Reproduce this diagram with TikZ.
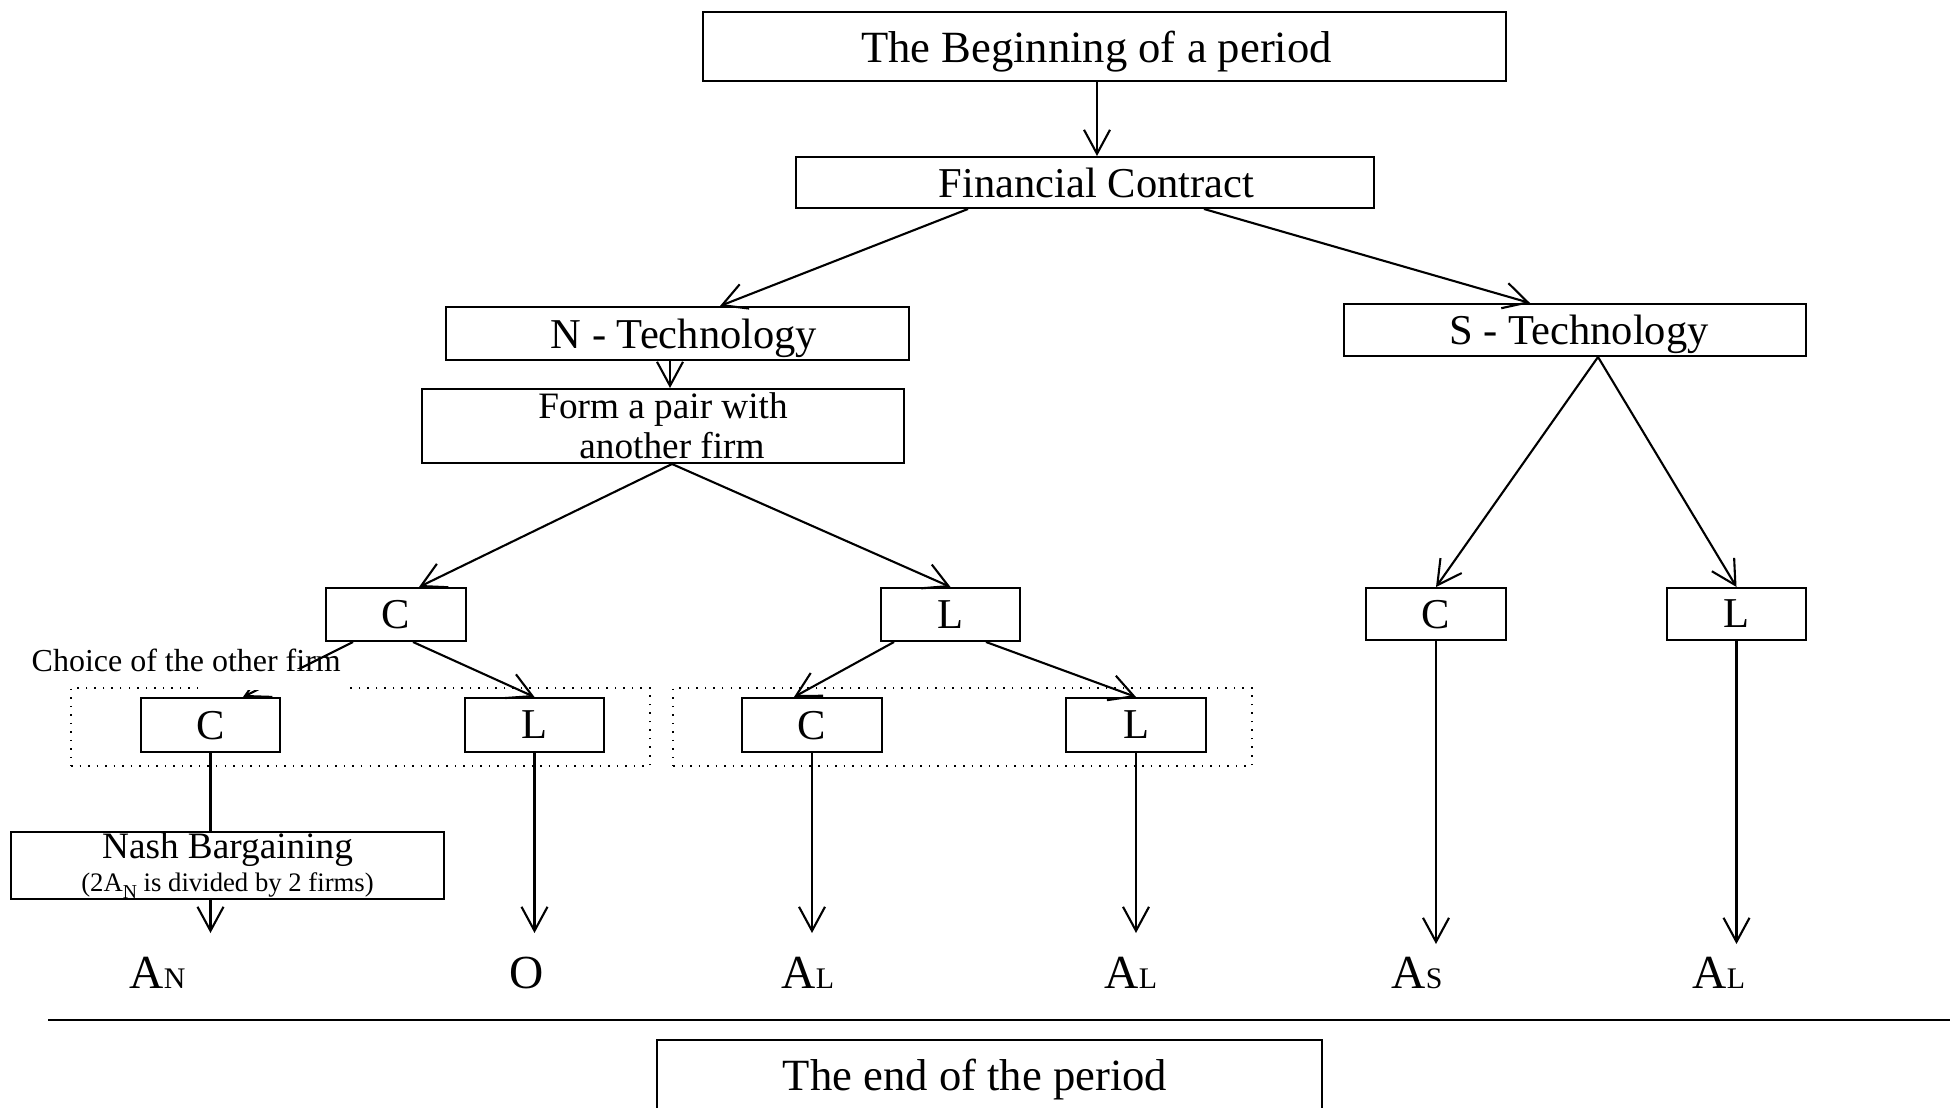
\documentclass[tikz,border=0pt]{standalone}
\usepackage{fontspec}
\setmainfont{Liberation Serif}
\usetikzlibrary{arrows.meta}

\newlength{\du}
\setlength{\du}{0.1mm}
\newcommand{\payoff}[1]{{\fontsize{13.5}{15}\selectfont A}{\fontsize{8.5}{10}\selectfont #1}}

\tikzset{
  stagebox/.style={draw, line width=0.2mm, inner sep=0pt, text depth=0pt, font=\fontsize{12.1}{14}\selectfont},
  periodbox/.style={stagebox, font=\fontsize{12.7}{15}\selectfont},
  textbox/.style={draw, line width=0.2mm, inner sep=0pt, align=center, font=\fontsize{10.6}{11.4}\selectfont},
  pairbox/.style={draw, dotted, line width=0.15mm, inner sep=0pt},
  link/.style={line width=0.21mm, -{Straight Barb[length=2.4mm,width=2.6mm]}},
  plain/.style={line width=0.21mm},
  outcome/.style={anchor=base west, inner sep=0pt},
}

\begin{document}
\begin{tikzpicture}
\pgftransformyscale{-1.000000}
\useasboundingbox (0\du,0\du) rectangle (1950\du,1108\du);
\clip (0\du,0\du) rectangle (1950\du,1108\du);
% top of the tree
\node[periodbox, minimum width=803\du, minimum height=69\du] (begin) at (1104.5\du,46.5\du) {\hspace*{-16\du}The Beginning of a period};
\node[stagebox, minimum width=578\du, minimum height=51\du] (fc) at (1085\du,182.5\du) {\hspace*{23\du}Financial Contract};
\node[stagebox, minimum width=463\du, minimum height=53\du] (ntech) at (677.5\du,333.5\du) {\hspace*{13\du}N - Technology};
\node[stagebox, minimum width=462\du, minimum height=52\du] (stech) at (1575\du,330\du) {\hspace*{8\du}S - Technology};
\node[textbox, minimum width=482\du, minimum height=74\du] (pair) at (663\du,426\du) {Form a pair with\\\hspace*{18\du}another firm};
% own choice
\node[stagebox, minimum width=140\du, minimum height=53\du] (c1) at (396\du,614.5\du) {C};
\node[stagebox, minimum width=139\du, minimum height=53\du] (l1) at (950.5\du,614.5\du) {L};
\node[stagebox, minimum width=140\du, minimum height=52\du] (cs) at (1436\du,614\du) {C};
\node[stagebox, minimum width=139\du, minimum height=52\du] (ls) at (1736.5\du,614\du) {L};
% choice of the partner
\node[pairbox, minimum width=579\du, minimum height=78\du] (grpA) at (360.5\du,727\du) {};
\node[pairbox, minimum width=579\du, minimum height=78\du] (grpB) at (962.5\du,727\du) {};
\node[stagebox, minimum width=139\du, minimum height=54\du] (c2a) at (210.5\du,725\du) {C};
\node[stagebox, minimum width=139\du, minimum height=54\du] (l2a) at (534.5\du,725\du) {L};
\node[stagebox, minimum width=140\du, minimum height=54\du] (c2b) at (812\du,725\du) {C};
\node[stagebox, minimum width=140\du, minimum height=54\du] (l2b) at (1136\du,725\du) {L};
\node[textbox, minimum width=433\du, minimum height=67\du] (nash) at (227.5\du,865.5\du) {Nash Bargaining\\[-2pt]{\fontsize{7.6}{9}\selectfont (2A\raisebox{-2.2pt}{\fontsize{5.6}{6}\selectfont N} is divided by 2 firms)}};
\coordinate (tipL) at (0\du,933\du);
\coordinate (tipS) at (0\du,944\du);
% connectors
\draw[link] ([xshift=-7.5\du]begin.south) -- ([xshift=12\du]fc.north);
\draw[link] ([xshift=-117\du]fc.south) -- ([xshift=42.5\du]ntech.north);
\draw[link] ([xshift=119\du]fc.south) -- ([xshift=-45\du]stech.north);
\draw[link] ([xshift=-7.5\du]ntech.south) -- ([xshift=7\du]pair.north);
\draw[link] ([xshift=9\du]pair.south) -- ([xshift=23\du]c1.north);
\draw[link] ([xshift=9\du]pair.south) -- (l1.north);
\draw[link] ([xshift=-43\du]c1.south) -- ([xshift=32.5\du]c2a.north);
\draw[link] ([xshift=17\du]c1.south) -- (l2a.north);
\draw[link] ([xshift=-56.5\du]l1.south) -- ([xshift=-18\du]c2b.north);
\draw[link] ([xshift=35.5\du]l1.south) -- (l2b.north);
\draw[link] ([xshift=23\du]stech.south) -- (cs.north);
\draw[link] ([xshift=23\du]stech.south) -- (ls.north);
\draw[plain] (c2a.south) -- (c2a.south |- nash.north);
\draw[link] (c2a.south |- nash.south) -- (c2a.south |- tipL);
\draw[link] (l2a.south) -- (l2a.south |- tipL);
\draw[link] (c2b.south) -- (c2b.south |- tipL);
\draw[link] (l2b.south) -- (l2b.south |- tipL);
\draw[link] (cs.south) -- (cs.south |- tipS);
\draw[link] (ls.south) -- (ls.south |- tipS);
\fill[white] (205\du,669\du) rectangle (346\du,689.5\du);
\node[anchor=base west, inner sep=0pt, font=\fontsize{9.1}{11}\selectfont] (choice) at (31\du,671\du) {Choice of the other firm};
% payoffs
\node[outcome] (payN) at (129\du,988\du) {\payoff{N}};
\node[outcome] (payO) at (509\du,988\du) {\fontsize{13.5}{15}\selectfont O};
\node[outcome] (payC) at (781\du,988\du) {\payoff{L}};
\node[outcome] (payD) at (1104\du,988\du) {\payoff{L}};
\node[outcome] (payS) at (1391\du,988\du) {\payoff{S}};
\node[outcome] (payE) at (1692\du,988\du) {\payoff{L}};
% end of the period
\draw[plain] (48\du,1020\du) -- (1950\du,1020\du);
\node[periodbox, minimum width=665\du, minimum height=70\du] (finish) at (989.5\du,1075\du) {\hspace*{-29\du}The end of the period};
\end{tikzpicture}
\end{document}
